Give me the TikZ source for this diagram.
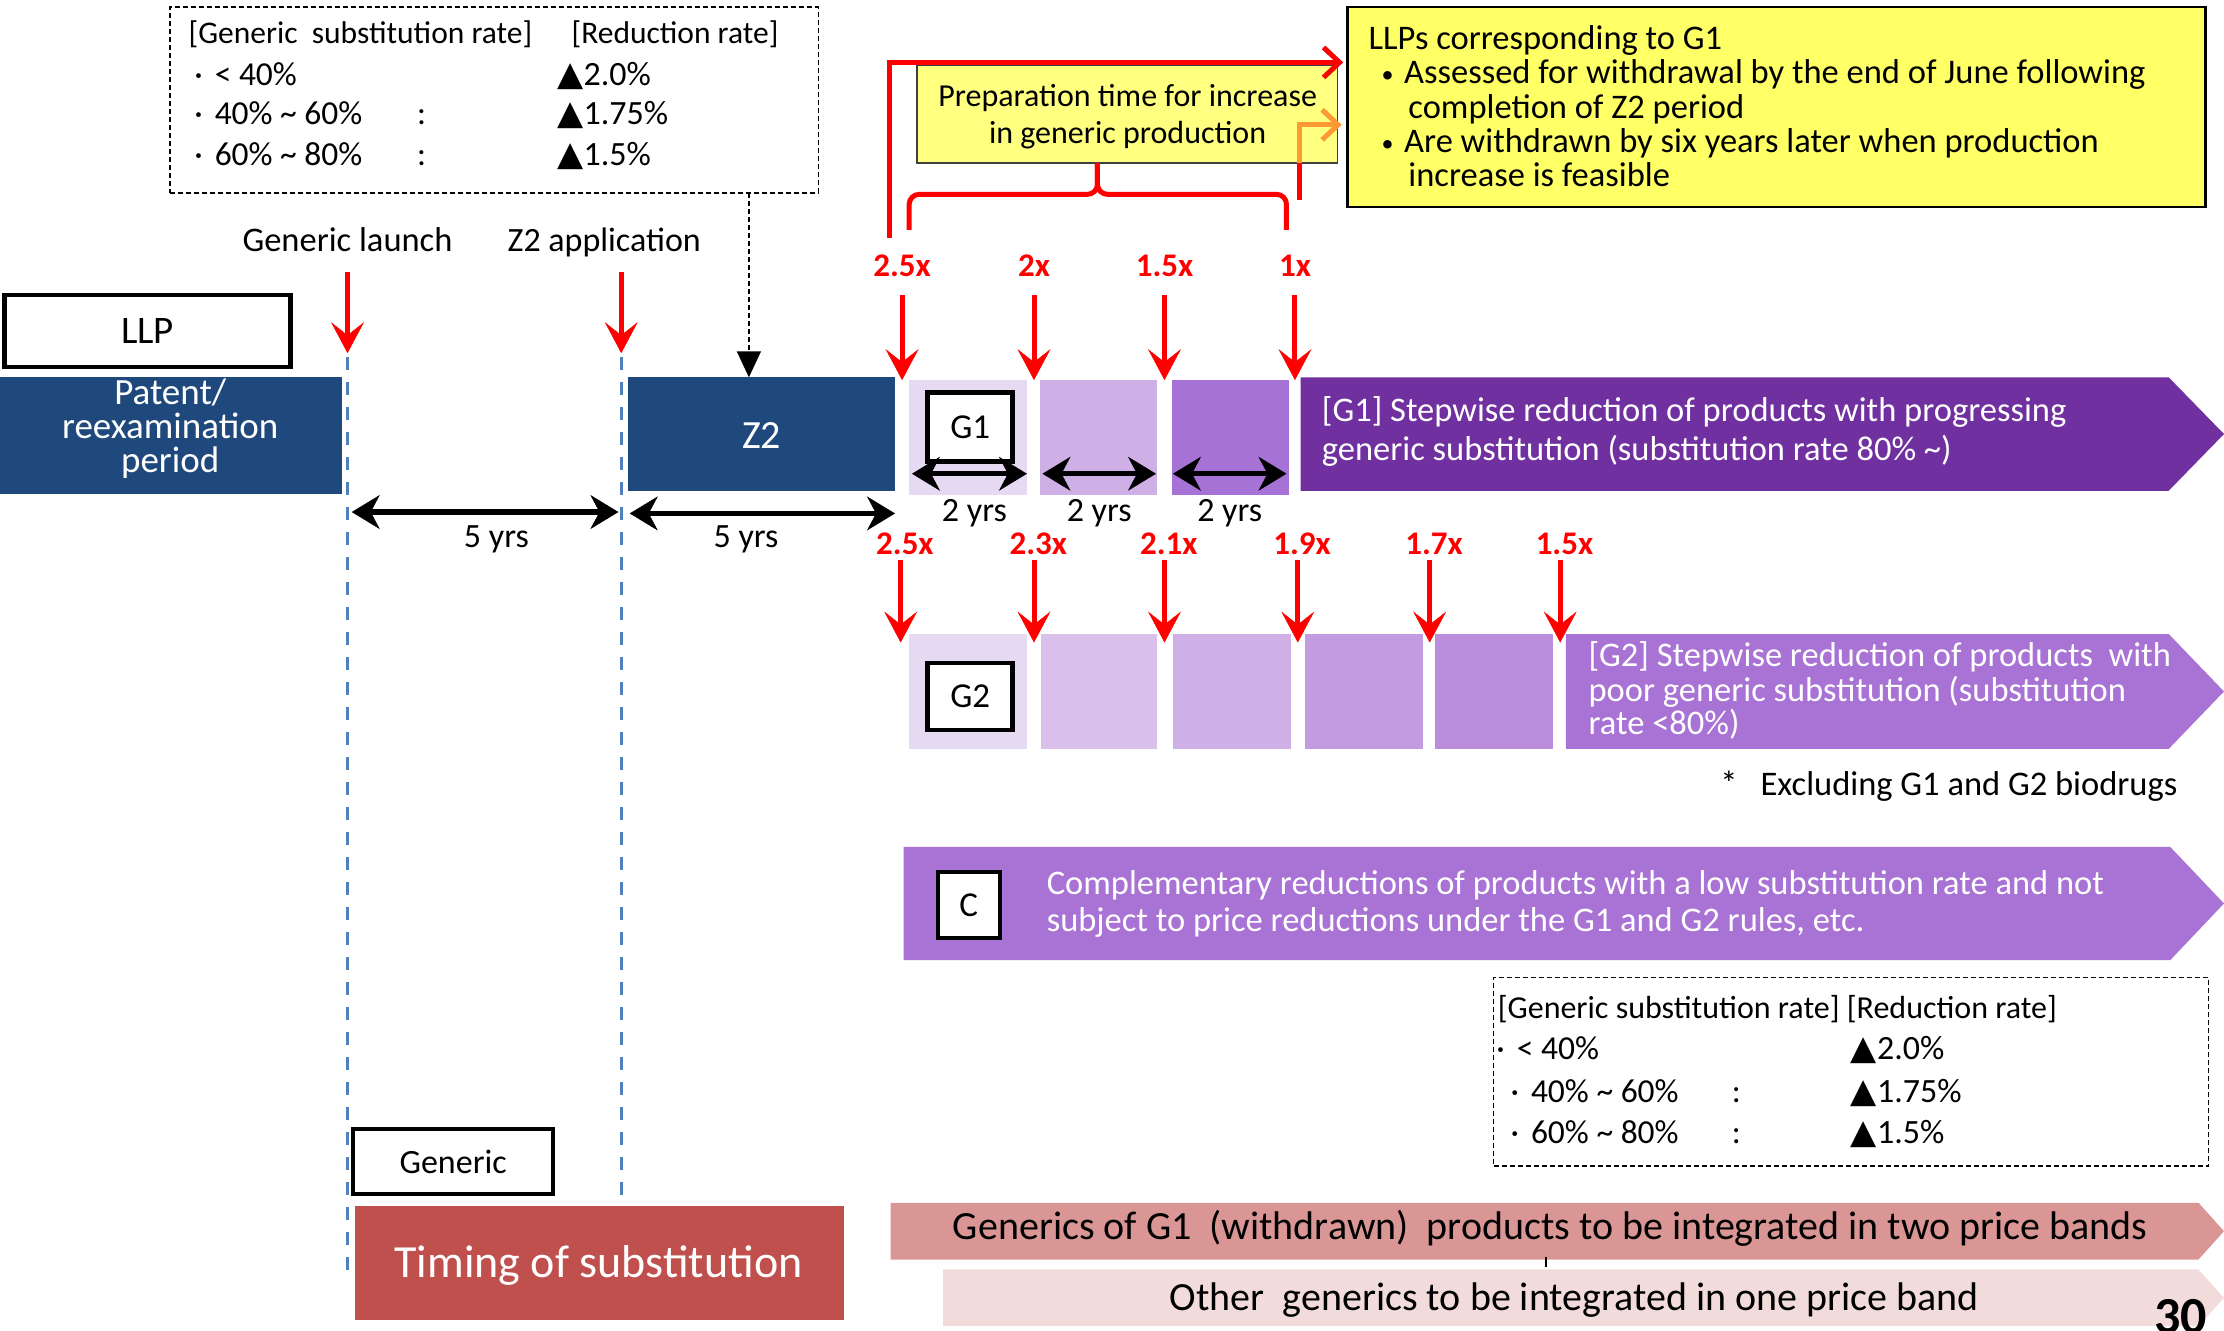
\documentclass[tikz,border=0pt]{standalone}
\usepackage{fontspec}
\setmainfont{Carlito}
\newfontfamily\symfont{DejaVu Sans}
\usetikzlibrary{arrows.meta,calc,fit}

\definecolor{navyblue}{HTML}{1F497D}
\definecolor{lavA}{HTML}{E6D9F2}
\definecolor{lavB}{HTML}{D9C1EC}
\definecolor{lavC}{HTML}{CFB0E6}
\definecolor{lavD}{HTML}{C29BE0}
\definecolor{lavE}{HTML}{BA8EDC}
\definecolor{lavF}{HTML}{A772D5}
\definecolor{purpleG}{HTML}{7030A0}
\definecolor{purpleM}{HTML}{A873D4}
\definecolor{brickred}{HTML}{C0504D}
\definecolor{rose}{HTML}{D99694}
\definecolor{blush}{HTML}{F2DCDB}
\definecolor{lemon}{HTML}{FFFF66}
\definecolor{paleyellow}{HTML}{FFFF80}
\definecolor{guideblue}{HTML}{4F81BD}
\definecolor{amber}{HTML}{FF9933}

\newcommand\fsz[2]{\fontsize{#1pt}{#2pt}\selectfont}
\newcommand\up{{\symfont\char"25B2}}
\newcommand\mdot{\textperiodcentered\hspace{12pt}}
\newcommand\tld{\textasciitilde}
\newcommand\smallbullet{{\fsz{24}{24}\textbullet}}

\begin{document}
\begin{tikzpicture}[x=1.4184pt,y=-1.4184pt,
  ctr/.style={inner sep=0pt,outer sep=0pt,anchor=base},
  lft/.style={inner sep=0pt,outer sep=0pt,anchor=base west},
  fs/.style={font=\fsz{#1}{#1}},
  wht/.style={text=white},
  mult/.style={text=red,font=\bfseries\fsz{33}{33}},
  panel/.style={inner sep=0pt,outer sep=0pt,draw=none},
  tag/.style={draw=black,line width=4.5pt,fill=white,inner sep=0pt,outer sep=0pt},
  legendbox/.style={draw=black,line width=1.5pt,dash pattern=on 5pt off 3pt,inner sep=0pt,outer sep=0pt},
  redarrow/.style={draw=red,line width=5pt,-{Stealth[length=31pt,width=33pt,inset=13pt,line width=0.5pt]}},
  redline/.style={draw=red,line width=5pt},
  feed/.style={line width=5pt,-{Straight Barb[length=16pt,width=30pt,line width=5pt]}},
  span/.style={draw=black,line width=5.5pt,{Stealth[length=28pt,width=34pt,inset=9pt,line width=0.5pt]}-{Stealth[length=28pt,width=34pt,inset=9pt,line width=0.5pt]}},
  guide/.style={draw=guideblue,line width=3.5pt,dash pattern=on 13pt off 12pt},
  pointer/.style={draw=black,line width=1.6pt,dash pattern=on 5pt off 3pt,-{Triangle[length=26pt,width=24pt]}},
]
\useasboundingbox (0,0) rectangle (1568,938);

% ---------- dashed timing guides
\coordinate (launchTop) at (245,192);
\coordinate (launchTip) at (245,249);
\coordinate (launchFoot) at (245,900);
\coordinate (applyTop) at (438,192);
\coordinate (applyTip) at (438,249);
\coordinate (applyFoot) at (438,846);
\draw[guide] ($(launchTip)+(0,3)$) -- (launchFoot);
\draw[guide] ($(applyTip)+(0,3)$) -- (applyFoot);

% ---------- reduction-rate legend, top left
\node[legendbox,fit={(120,5) (577,136)}] (ratesTop) {};
\node[lft,fs=31.5] (rtHeadA) at (133,31) {[Generic\ \ substitution rate]};
\node[lft,fs=31.5] (rtHeadB) at (403,31) {[Reduction rate]};
\node[lft,fs=33.5] (rtRowA) at (137,60) {\mdot< 40\%};
\node[lft,fs=33.5] (rtRowB) at (137,88) {\mdot40\% \tld\ 60\%};
\node[lft,fs=33.5] (rtRowC) at (137,117) {\mdot60\% \tld\ 80\%};
\node[lft,fs=33.5] (rtColB) at (294,88) {:};
\node[lft,fs=33.5] (rtColC) at (294,117) {:};
\node[lft,fs=34] (rtCutA) at (393,60) {\up2.0\%};
\node[lft,fs=34] (rtCutB) at (393,88) {\up1.75\%};
\node[lft,fs=34] (rtCutC) at (393,117) {\up1.5\%};

% ---------- milestones
\node[ctr,fs=34.5] (launchLbl) at (245,177) {Generic launch};
\node[ctr,fs=34] (applyLbl) at (426,177) {Z2 application};
\draw[redarrow] (launchTop) -- (launchTip);
\draw[redarrow] (applyTop) -- (applyTip);

% ---------- LLP periods
\node[tag,minimum width=286pt,minimum height=72pt,fs=39] (llpTag) at (104,233.5) {LLP};
\node[panel,fill=navyblue,fit={(0,266) (241,348)}] (patent) {};
\node[ctr,fs=37,wht] (patL1) at (120,285.5) {Patent/};
\node[ctr,fs=37,wht] (patL2) at (120,309.5) {reexamination};
\node[ctr,fs=37,wht] (patL3) at (120,333) {period};
\node[panel,fill=navyblue,fit={(443,266) (631,346)}] (zTwo) {};
\node[ctr,fs=40,wht] (zTwoTxt) at (537,316) {Z2};

\coordinate (ptrTop) at ($(ratesTop.south east)+(-49,0)$);
\draw[pointer] (ptrTop) -- (ptrTop |- zTwo.north);

\coordinate (spanA1) at (248,361);
\coordinate (spanA2) at (436,361);
\coordinate (spanB1) at (444,362);
\coordinate (spanB2) at (631,362);
\draw[span] (spanA1) -- (spanA2);
\draw[span] (spanB1) -- (spanB2);
\node[ctr,fs=34] (yrsA) at (350,386) {5 yrs};
\node[ctr,fs=34] (yrsB) at (526,386) {5 yrs};

% ---------- G1 row
\node[panel,fill=lavA,fit={(641,268) (724,349)}] (gOneA) {};
\node[panel,fill=lavC,fit={(733,268) (816,349)}] (gOneB) {};
\node[panel,fill=lavF,fit={(826,268) (909,349)}] (gOneC) {};
\fill[purpleG] (917,266) -- (1529,266) -- (1568,306) -- (1529,346) -- (917,346) -- cycle;
\node[lft,fs=34.5,wht] (gOneL1) at (932,297.5) {[G1] Stepwise reduction of products with progressing};
\node[lft,fs=34.5,wht] (gOneL2) at (932,324.5) {generic substitution (substitution rate 80\% \tld)};
\node[tag,minimum width=85pt,minimum height=69pt,fs=35] (gOneTag) at (684,301) {G1};

\draw[span] ($(gOneA.west)+(2,25.5)$) -- ($(gOneA.east)+(0,25.5)$);
\draw[span] ($(gOneB.west)+(2,25.5)$) -- ($(gOneB.east)+(-1,25.5)$);
\draw[span] ($(gOneC.west)+(1,25.5)$) -- ($(gOneC.east)+(-2,25.5)$);
\node[ctr,fs=34] (twoA) at (687,368) {2 yrs};
\node[ctr,fs=34] (twoB) at (775,368) {2 yrs};
\node[ctr,fs=34] (twoC) at (867,368) {2 yrs};

\node[ctr,mult] (mOneA) at (636,195) {2.5x};
\node[ctr,mult] (mOneB) at (729,195) {2x};
\node[ctr,mult] (mOneC) at (821,195) {1.5x};
\node[ctr,mult] (mOneD) at (913,195) {1x};
\foreach \m in {mOneA,mOneB,mOneC,mOneD}
  \draw[redarrow] ($(\m.south)+(0,13)$) -- (\m.south |- gOneA.north);

% ---------- G2 row
\node[panel,fill=lavA,fit={(641,447) (724,528)}] (gTwoA) {};
\node[panel,fill=lavB,fit={(734,447) (816,528)}] (gTwoB) {};
\node[panel,fill=lavC,fit={(827,447) (910,528)}] (gTwoC) {};
\node[panel,fill=lavD,fit={(920,447) (1003,528)}] (gTwoD) {};
\node[panel,fill=lavE,fit={(1012,447) (1095,528)}] (gTwoE) {};
\fill[purpleM] (1104,447) -- (1529,447) -- (1568,487.5) -- (1529,528) -- (1104,528) -- cycle;
\node[lft,fs=34.5,wht] (gTwoL1) at (1120,470) {[G2] Stepwise reduction of products\ \ with};
\node[lft,fs=34.5,wht] (gTwoL2) at (1120,494.5) {poor generic substitution (substitution};
\node[lft,fs=34.5,wht] (gTwoL3) at (1120,518) {rate <80\%)};
\node[tag,minimum width=85pt,minimum height=67pt,fs=35] (gTwoTag) at (684,491) {G2};

\node[ctr,mult] (mTwoA) at (638,391) {2.5x};
\node[ctr,mult] (mTwoB) at (732,391) {2.3x};
\node[ctr,mult] (mTwoC) at (824,391) {2.1x};
\node[ctr,mult] (mTwoD) at (918,391) {1.9x};
\node[ctr,mult] (mTwoE) at (1011,391) {1.7x};
\node[ctr,mult] (mTwoF) at (1103,391) {1.5x};
\foreach \m in {mTwoA,mTwoB,mTwoC,mTwoD,mTwoE,mTwoF}
  \draw[redarrow] ($(\m.south)+(-3,4)$) -- ($(\m.south |- gTwoA.north)+(-3,6)$);

\node[lft,fs=34.5] (bioNote) at (1213,561) {*\hspace{23pt}Excluding G1 and G2 biodrugs};

% ---------- complementary reductions
\fill[purpleM] (637,597) -- (1530,597) -- (1568,637) -- (1530,677) -- (637,677) -- cycle;
\node[tag,minimum width=62pt,minimum height=66pt,fs=35] (cTag) at (683,638) {C};
\node[lft,fs=34.5,wht] (cL1) at (738,631) {Complementary reductions of products with a low substitution rate and not};
\node[lft,fs=34.5,wht] (cL2) at (738,657) {subject to price reductions under the G1 and G2 rules, etc.};

% ---------- reduction-rate legend, bottom right
\node[legendbox,fit={(1053,689) (1557,822)}] (ratesLow) {};
\node[lft,fs=32] (rlHead) at (1056,718) {[Generic substitution rate] [Reduction rate]};
\node[lft,fs=33.5] (rlRowA) at (1055,747) {\mdot< 40\%};
\node[lft,fs=33.5] (rlRowB) at (1065,777) {\mdot40\% \tld\ 60\%};
\node[lft,fs=33.5] (rlRowC) at (1065,806) {\mdot60\% \tld\ 80\%};
\node[lft,fs=33.5] (rlColB) at (1221,777) {:};
\node[lft,fs=33.5] (rlColC) at (1221,806) {:};
\node[lft,fs=34] (rlCutA) at (1305,747) {\up2.0\%};
\node[lft,fs=34] (rlCutB) at (1305,777) {\up1.75\%};
\node[lft,fs=34] (rlCutC) at (1305,806) {\up1.5\%};

% ---------- preparation time and G1 withdrawal notes
\node[panel,fill=paleyellow,draw=black!75,line width=1.8pt,fit={(646.5,46) (943,115)}] (prep) {};
\node[ctr,fs=32] (prepL1) at (795,75) {Preparation time for increase};
\node[ctr,fs=32] (prepL2) at (795,101) {in generic production};

\node[panel,fill=lemon,draw=black,line width=2.5pt,fit={(950,5) (1555,146)}] (llpBox) {};
\node[lft,fs=34.5] (noteHead) at (965,35) {LLPs corresponding to G1};
\node[lft,fs=34.5] (noteDotA) at (974,58) {\smallbullet};
\node[lft,fs=34.5] (noteA1) at (990,59) {Assessed for withdrawal by the end of June following};
\node[lft,fs=34.5] (noteA2) at (993,83.5) {completion of Z2 period};
\node[lft,fs=34.5] (noteDotB) at (974,106.5) {\smallbullet};
\node[lft,fs=34.5] (noteB1) at (990,107.5) {Are withdrawn by six years later when production};
\node[lft,fs=34.5] (noteB2) at (993,131.5) {increase is feasible};

% brace under the preparation box
\coordinate (braceTip) at ($(prep.south)+(-21,0)$);
\draw[redline,rounded corners=10pt] (641,162) -- (641,137) -- (braceTip |- 0,137) -- (braceTip);
\draw[redline,rounded corners=10pt] (907,162) -- (907,137) -- (braceTip |- 0,137) -- (braceTip);

% feeds into the G1 note
\coordinate (feedFoot) at (627,168);
\draw[feed,draw=red] (feedFoot) |- ($(llpBox.west |- prep.north)+(-3,-2)$);
\coordinate (lateFoot) at (916,141);
\coordinate (lateBend) at (916,115);
\draw[redline] (lateFoot) -- (lateBend);
\draw[feed,draw=amber] (lateBend) |- ($(llpBox.west)+(-4,12.5)$);

% ---------- substitution timing
\node[tag,minimum width=200pt,minimum height=65pt,fs=34] (genTag) at (319.5,819) {Generic};
\node[panel,fill=brickred,fit={(250,850) (595,930.5)}] (timing) {};
\node[ctr,fs=46,wht] (timingTxt) at (422,901) {Timing of substitution};

\fill[rose] (628,848) -- (1550,848) -- (1568,868) -- (1550,888) -- (628,888) -- cycle;
\node[ctr,fs=40] (bandTwo) at (1093,874) {Generics of G1\ \ (withdrawn)\ \ products to be integrated in two price bands};
\fill[blush] (665,895) -- (1550,895) -- (1568,915) -- (1550,935) -- (665,935) -- cycle;
\node[ctr,fs=40] (bandOne) at (1110,924) {Other\ \ generics to be integrated in one price band};
\draw[line width=1.5pt] (1090,886) -- (1090,893);

\node[inner sep=0pt,anchor=base east,font=\bfseries\fsz{52}{52}] (pageNo) at (1556,940) {30};
\end{tikzpicture}
\end{document}
